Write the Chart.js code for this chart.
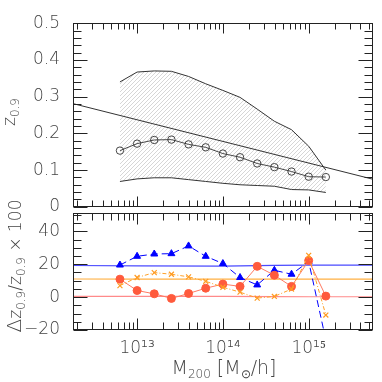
<!DOCTYPE html>
<html>
<head>
<meta charset="utf-8">
<script src="https://cdn.jsdelivr.net/npm/chart.js@4.4.0/dist/chart.umd.min.js"></script>
<style>
body { margin: 0; background: #fff; width: 382px; height: 382px; overflow: hidden; position: relative; font-family: 'DejaVu Sans', sans-serif; color: #444; }
canvas { position: absolute; left: 0; }
#topChart { top: 0; }
#botChart { top: 190px; }
.lab { position: absolute; white-space: nowrap; font-size: 17px; font-weight: 300; transform: translate(-50%, -50%); }
.rot { transform: translate(-50%, -50%) rotate(-90deg); }
.lab sub { font-size: 12px; vertical-align: -4px; }
</style>
</head>
<body>
<canvas id="topChart" width="382" height="230"></canvas>
<canvas id="botChart" width="382" height="192"></canvas>
<div class="lab rot" style="left:10px;top:112px">z<sub>0.9</sub></div>
<div class="lab rot" style="left:15px;top:266px"><span style="font-size:20px">Δ</span>z<sub>0.9</sub>/z<sub>0.9</sub> × 100</div>
<div class="lab" style="left:224px;top:368px;font-size:19px">M<sub>200</sub> [M<sub>⊙</sub>/h]</div>
<script>
// mass bins (M200 in Msun/h)
const mass = [6.31e12, 1e13, 1.585e13, 2.512e13, 3.981e13, 6.31e13, 1e14, 1.585e14, 2.512e14, 3.981e14, 6.31e14, 1e15, 1.585e15];
const z90 = [0.153, 0.172, 0.182, 0.183, 0.170, 0.162, 0.145, 0.135, 0.118, 0.108, 0.096, 0.082, 0.081];
const zHigh = [0.34, 0.367, 0.37, 0.369, 0.355, 0.335, 0.317, 0.298, 0.266, 0.233, 0.21, 0.165, 0.10];
const zLow = [0.069, 0.076, 0.079, 0.079, 0.074, 0.069, 0.064, 0.060, 0.058, 0.056, 0.047, 0.046, 0.039];
const fitMass = [1.79e12, 5.62e15];
const fitZ = [0.281, 0.075];

const dBlue = [19.5, 24.8, 26.2, 26.4, 31.1, 24.8, 20.4, 11.9, 7.4, 16.3, 13.9, 21.6, -26];
const dRed = [10.9, 4.0, 2.0, -0.8, 2.2, 5.4, 7.9, 6.5, 18.7, 13.3, 6.5, 22.2, 0.6];
const dOrange = [7.0, 11.9, 14.9, 13.9, 12.3, 9.6, 6.0, 3.0, -0.6, 0.4, 4.9, 25.4, -10.9];
const refMass = [1.79e12, 1e13, 1e14, 4e14, 1e15, 5.62e15];
const refBlue = [19.2, 19.0, 18.8, 19.3, 19.4, 19.4];
const refOrange = [11.0, 10.9, 10.9, 10.9, 10.9, 10.9];
const refRed = [0.4, 0.4, 0.4, 0.3, 0.2, 0.2];

const xTicks = [1e13, 1e14, 1e15];
const supDigits = { '1': '\u00b9', '3': '\u00b3', '4': '\u2074', '5': '\u2075' };

const FONT = { family: 'DejaVu Sans', size: 17, weight: 300 };

function pts(xs, ys) {
    return xs.map((x, i) => ({ x: x, y: ys[i] }));
}

function hatch() {
    const c = document.createElement('canvas');
    c.width = 4; c.height = 4;
    const g = c.getContext('2d');
    g.strokeStyle = '#c4c4c4';
    g.lineWidth = 0.7;
    g.beginPath();
    g.moveTo(0, 4); g.lineTo(4, 0);
    g.moveTo(-1, 1); g.lineTo(1, -1);
    g.moveTo(3, 5); g.lineTo(5, 3);
    g.stroke();
    return g.createPattern(c, 'repeat');
}

// box + inward ticks on all four sides
const frame = {
    id: 'frame',
    afterDraw(chart, args, o) {
        const ctx = chart.ctx, a = chart.chartArea;
        const x = chart.scales.x, y = chart.scales.y;
        ctx.save();
        ctx.strokeStyle = '#222';
        ctx.lineWidth = 1;
        const L = Math.round(a.left) + 0.5, R = Math.round(a.right) - 0.5;
        const T = Math.round(a.top) + 0.5, B = Math.round(a.bottom) - 0.5;
        ctx.strokeRect(L, T, R - L, B - T);
        ctx.beginPath();
        for (let e = 12; e <= 15; e++) {
            for (let m = 1; m <= 9; m++) {
                const v = m * Math.pow(10, e);
                if (v < x.min || v > x.max) continue;
                const px = Math.round(x.getPixelForValue(v)) + 0.5;
                const len = m === 1 ? o.xMaj : o.xMin;
                ctx.moveTo(px, B); ctx.lineTo(px, B - len);
                ctx.moveTo(px, T); ctx.lineTo(px, T + len);
            }
        }
        const i0 = Math.ceil(y.min / o.yStep - 1e-6), i1 = Math.floor(y.max / o.yStep + 1e-6);
        for (let i = i0; i <= i1; i++) {
            const py = Math.round(y.getPixelForValue(i * o.yStep)) + 0.5;
            const len = i % o.yEvery === 0 ? o.yMaj : o.yMin;
            ctx.moveTo(L, py); ctx.lineTo(L + len, py);
            ctx.moveTo(R, py); ctx.lineTo(R - len, py);
        }
        ctx.stroke();
        ctx.restore();
    }
};

const xRange = { min: 1.79e12, max: 5.62e15 };

new Chart(document.getElementById('topChart'), {
    type: 'line',
    data: {
        datasets: [
            { data: pts(mass, zHigh), borderColor: '#333', borderWidth: 1, pointRadius: 0, fill: '+1', backgroundColor: hatch(), order: 4 },
            { data: pts(mass, zLow), borderColor: '#333', borderWidth: 1, pointRadius: 0, fill: false, order: 3 },
            { data: pts(fitMass, fitZ), borderColor: '#333', borderWidth: 1, pointRadius: 0, fill: false, order: 2 },
            { data: pts(mass, z90), borderColor: '#333', borderWidth: 0.9, pointRadius: 3.7, pointBorderWidth: 0.9,
              pointBorderColor: '#333', pointBackgroundColor: 'rgba(0,0,0,0)', fill: false, order: 1 }
        ]
    },
    options: {
        responsive: false,
        animation: false,
        layout: { padding: { left: 0, right: 9, top: 9, bottom: 22 } },
        plugins: { legend: { display: false }, tooltip: { enabled: false },
                   frame: { xMaj: 10, xMin: 6, yStep: 0.02, yEvery: 5, yMaj: 14, yMin: 8 } },
        scales: {
            x: { type: 'logarithmic', min: xRange.min, max: xRange.max, display: false },
            y: {
                min: 0, max: 0.5,
                grid: { display: false, drawTicks: false },
                border: { display: false },
                ticks: { stepSize: 0.1, padding: 13, color: '#444', font: FONT,
                         callback: v => v === 0 ? '0' : v.toFixed(1) },
                afterFit: s => { s.width = 73; }
            }
        }
    },
    plugins: [frame]
});

new Chart(document.getElementById('botChart'), {
    type: 'line',
    data: {
        datasets: [
            { data: pts(refMass, refBlue), borderColor: '#4a4aff', borderWidth: 1.2, pointRadius: 0, order: 6 },
            { data: pts(refMass, refOrange), borderColor: '#ffb042', borderWidth: 1.2, pointRadius: 0, order: 5 },
            { data: pts(refMass, refRed), borderColor: '#ff8a8a', borderWidth: 1.2, pointRadius: 0, order: 4 },
            { data: pts(mass, dBlue), borderColor: '#0000ff', borderWidth: 1, borderDash: [7, 4], pointStyle: 'triangle',
              pointRadius: 4, pointBackgroundColor: '#0000ff', pointBorderColor: '#0000ff', order: 3 },
            { data: pts(mass, dRed), borderColor: '#ff7a62', borderWidth: 1, pointStyle: 'circle',
              pointRadius: 4, pointBackgroundColor: '#ff5a3c', pointBorderColor: '#ff5a3c', order: 2 },
            { data: pts(mass, dOrange), borderColor: '#ffa028', borderWidth: 1, borderDash: [4, 2, 1, 2], pointStyle: 'crossRot',
              pointRadius: 3.5, pointBorderWidth: 1.2, pointBorderColor: '#ff9a20', order: 1 }
        ]
    },
    options: {
        responsive: false,
        animation: false,
        layout: { padding: { left: 0, right: 9, top: 18, bottom: 0 } },
        plugins: { legend: { display: false }, tooltip: { enabled: false },
                   frame: { xMaj: 11, xMin: 7, yStep: 5, yEvery: 4, yMaj: 14, yMin: 8 } },
        scales: {
            x: {
                type: 'logarithmic', min: xRange.min, max: xRange.max,
                grid: { display: false, drawTicks: false },
                border: { display: false },
                afterBuildTicks: s => { s.ticks = xTicks.map(v => ({ value: v, major: true })); },
                ticks: { padding: 8, color: '#444', font: FONT, maxRotation: 0, autoSkip: false,
                         callback: v => '10' + String(Math.round(Math.log10(v))).split('').map(d => supDigits[d]).join('') },
                afterFit: s => { s.height = 52; }
            },
            y: {
                min: -20, max: 51,
                grid: { display: false, drawTicks: false },
                border: { display: false },
                afterBuildTicks: s => { s.ticks = [-20, 0, 20, 40].map(v => ({ value: v })); },
                ticks: { padding: 13, color: '#444', font: FONT,
                         callback: v => v < 0 ? '\u2212' + Math.abs(v) : String(v) },
                afterFit: s => { s.height = s.height; s.width = 73; }
            }
        }
    },
    plugins: [frame]
});
</script>
</body>
</html>
